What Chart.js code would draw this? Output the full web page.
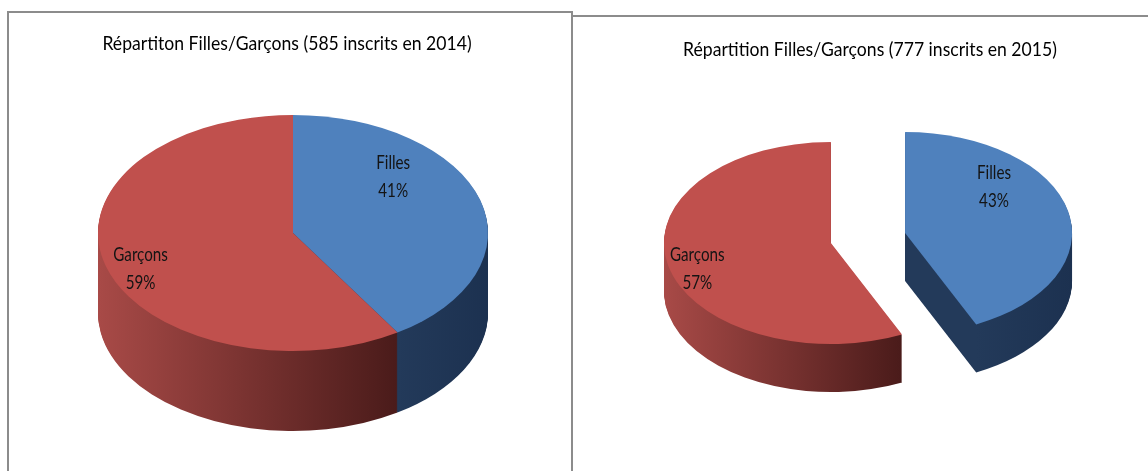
<!DOCTYPE html>
<html>
<head>
<meta charset="utf-8">
<script src="https://cdn.jsdelivr.net/npm/chart.js@4.4.1/dist/chart.umd.min.js"></script>
<style>
    body { margin: 0; background: #fff; width: 1148px; height: 471px; overflow: hidden; position: relative; }
    .panel { position: absolute; border: 0 solid #8c8c8c; }
    #panel2014 { left: 7px; top: 11px; border-width: 2px 2px 0 2px; }
    #panel2015 { left: 573px; top: 15px; border-width: 2px 0 0 0; }
    canvas { display: block; }
</style>
</head>
<body>
<div class="panel" id="panel2014"><canvas id="pie2014" width="562" height="458"></canvas></div>
<div class="panel" id="panel2015"><canvas id="pie2015" width="575" height="454"></canvas></div>
<script>
// Values (percentages shown on the slices)
const categories = ['Filles', 'Garçons'];
const share2014 = [41, 59];
const share2015 = [43, 57];
const titles = [
    'Répartiton Filles/Garçons (585 inscrits en 2014)',
    'Répartition Filles/Garçons (777 inscrits en 2015)'
];

const topColors = ['#4f81bd', '#c0504d'];
const sideColors = [['#233a5a', '#1c3150'], ['#a84a47', '#4a1b1a']];
const fontFamily = 'Lato, "Open Sans", sans-serif';

// Squash the view vertically round the pie centre to get the tilted ellipse
function tilt(ctx, cy, k) {

    ctx.translate(0, cy);
    ctx.scale(1, k);
    ctx.translate(0, -cy);
}

function wedge(ctx, g) {

    ctx.beginPath();
    ctx.moveTo(g.cx, g.cy);
    ctx.arc(g.cx, g.cy, g.r, g.start, g.end);
    ctx.closePath();
}

function narrowText(ctx, text, x, y, squeeze) {

    ctx.save();
    ctx.translate(x, y);
    ctx.scale(squeeze, 1);
    ctx.fillText(text, 0, 0);
    ctx.restore();
}

// Draws the pie as a thick tilted disc, using the arcs that Chart.js laid out
const pie3d = {

    id: 'pie3d',
    beforeDatasetDraw(chart, args, opts) {

        const ctx = chart.ctx;
        const arcs = args.meta.data;
        const k = opts.tilt;
        const cy0 = arcs[0].y;

        const geo = arcs.map((arc, i) => {

            const p = arc.getProps(['x', 'y', 'startAngle', 'endAngle', 'outerRadius'], true);
            const mid = (p.startAngle + p.endAngle) / 2;
            const g = {
                arc: arc,
                x: p.x,
                y: p.y,
                cx: p.x + Math.cos(mid) * opts.explode,
                cy: p.y + Math.sin(mid) * opts.explode,
                r: p.outerRadius,
                start: p.startAngle,
                end: p.endAngle
            };
            // horizontal extent of the front (visible) part of the rim
            let minX = Infinity, maxX = -Infinity;
            for (let s = 0; s <= 100; s++) {

                const a = g.start + (g.end - g.start) * s / 100;
                if (Math.sin(a) >= -0.001) {

                    const px = g.cx + Math.cos(a) * g.r;
                    minX = Math.min(minX, px);
                    maxX = Math.max(maxX, px);
                }
            }
            if (minX === Infinity) {

                minX = g.cx - g.r;
                maxX = g.cx + g.r;
            }
            const grad = ctx.createLinearGradient(minX, 0, maxX, 0);
            grad.addColorStop(0, sideColors[i][0]);
            grad.addColorStop(1, sideColors[i][1]);
            g.side = grad;
            return g;
        });

        // side walls: the wedges stacked downwards
        for (let d = opts.depth; d >= 1; d--) {

            ctx.save();
            ctx.translate(0, d);
            tilt(ctx, cy0, k);
            geo.forEach(g => {

                wedge(ctx, g);
                ctx.fillStyle = g.side;
                ctx.fill();
            });
            ctx.restore();
        }

        // top faces, drawn by the arc elements themselves
        geo.forEach(g => {

            ctx.save();
            tilt(ctx, cy0, k);
            ctx.translate(g.cx - g.x, g.cy - g.y);
            g.arc.draw(ctx);
            ctx.restore();
        });

        // slice labels
        const values = chart.data.datasets[0].data;
        ctx.save();
        ctx.fillStyle = '#141414';
        ctx.textAlign = 'center';
        ctx.textBaseline = 'middle';
        ctx.font = `${opts.labelSize}px ${fontFamily}`;
        geo.forEach((g, i) => {

            const a = g.start + (g.end - g.start) * opts.labelAt[i];
            const px = g.cx + Math.cos(a) * g.r * opts.labelRadius[i];
            const py = cy0 + (g.cy + Math.sin(a) * g.r * opts.labelRadius[i] - cy0) * k;
            narrowText(ctx, chart.data.labels[i], px, py - opts.lineGap / 2, opts.labelSqueeze);
            narrowText(ctx, values[i] + '%', px, py + opts.lineGap / 2, opts.labelSqueeze);
        });
        ctx.restore();

        return false;
    },
    afterDraw(chart, args, opts) {

        const ctx = chart.ctx;
        const area = chart.chartArea;
        ctx.save();
        ctx.fillStyle = '#000';
        ctx.textAlign = 'center';
        ctx.textBaseline = 'alphabetic';
        ctx.font = `${opts.titleSize}px ${fontFamily}`;
        narrowText(ctx, opts.title, (area.left + area.right) / 2 + opts.titleShift, opts.titleBaseline, opts.titleSqueeze);
        ctx.restore();
    }
};

function makePie(canvasId, values, title, geometry) {

    const ctx = document.getElementById(canvasId).getContext('2d');

    return new Chart(ctx, {

        type: 'pie',
        data: {

            labels: categories,
            datasets: [{

                data: values,
                backgroundColor: topColors,
                borderWidth: 0
            }]
        },
        options: {

            responsive: false,
            animation: false,
            radius: geometry.radius,
            layout: { padding: geometry.padding },
            plugins: {

                legend: { display: false },
                tooltip: { enabled: false },
                pie3d: {

                    title: title,
                    titleSize: 20,
                    titleSqueeze: 0.88,
                    titleShift: geometry.titleShift,
                    titleBaseline: geometry.titleBaseline,
                    tilt: geometry.tilt,
                    depth: geometry.depth,
                    explode: geometry.explode,
                    labelAt: [0.32, 0.475],
                    labelRadius: [0.70, 0.84],
                    labelSize: 19,
                    labelSqueeze: 0.8,
                    lineGap: 28
                }
            }
        },
        plugins: [pie3d]
    });
}

makePie('pie2014', share2014, titles[0], {

    radius: 195,
    padding: { left: 6, right: 0, top: 0, bottom: 18 },
    tilt: 0.605,
    depth: 80,
    explode: 0,
    titleShift: -6,
    titleBaseline: 37
});

makePie('pie2015', share2015, titles[1], {

    radius: 167,
    padding: { left: 15, right: 0, top: 0, bottom: 12 },
    tilt: 0.605,
    depth: 48,
    explode: 38,
    titleShift: 2,
    titleBaseline: 39
});
</script>
</body>
</html>
